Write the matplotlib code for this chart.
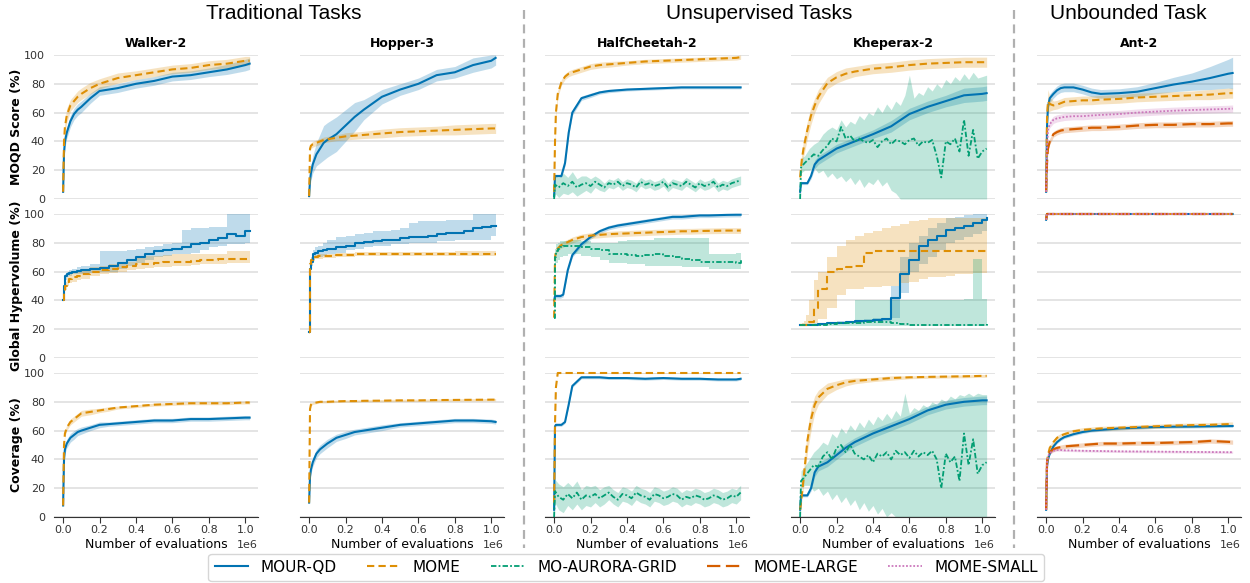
import matplotlib.pyplot as plt
import numpy as np
from matplotlib.lines import Line2D

# evaluation grids (in units of 1e6 evaluations)
grid_x = [0, 0.005, 0.01, 0.02, 0.04, 0.06, 0.08, 0.1, 0.15, 0.2,
          0.25, 0.3, 0.4, 0.5, 0.6, 0.7, 0.8, 0.9, 1.0, 1.024]
hv_x = [0, 0.005, 0.01, 0.02, 0.035, 0.05, 0.075, 0.1,
        0.15, 0.2, 0.25, 0.3, 0.35, 0.4, 0.45, 0.5,
        0.55, 0.6, 0.65, 0.7, 0.75, 0.8, 0.85, 0.9,
        0.95, 1.0, 1.024]
jag_x = [0, 0.005, 0.025, 0.05, 0.075, 0.1, 0.125, 0.15, 0.175, 0.2,
         0.225, 0.25, 0.275, 0.3, 0.325, 0.35, 0.375, 0.4, 0.425, 0.45,
         0.475, 0.5, 0.525, 0.55, 0.575, 0.6, 0.625, 0.65, 0.675, 0.7,
         0.725, 0.75, 0.775, 0.8, 0.825, 0.85, 0.875, 0.9, 0.925, 0.95,
         0.975, 1.0, 1.024]

methods = ["MOUR-QD", "MOME", "MO-AURORA-GRID", "MOME-LARGE", "MOME-SMALL"]
tasks = ["Walker-2", "Hopper-3", "HalfCheetah-2", "Kheperax-2", "Ant-2"]
metrics = ["MOQD Score (%)", "Global Hypervolume (%)", "Coverage (%)"]

# ---- Walker-2
walker_moqd_mour = [5, 32, 40, 46, 54, 59, 62, 64, 70, 75, 76, 77, 80, 82, 85, 86, 88, 90, 93, 94]
walker_moqd_mour_sd = [1, 4, 4, 4, 4, 4, 4, 4, 3.5, 3, 3, 3, 3, 3, 3, 3, 3, 3.5, 4, 4]
walker_moqd_mome = [5, 40, 50, 58, 65, 68, 71, 73, 77, 80, 82, 84, 86, 88, 90, 91, 93, 94, 96, 96]
walker_moqd_mome_sd = [1, 5, 5, 5, 4, 4, 4, 4, 4, 3.5, 3.5, 3.5, 3, 3, 3, 3, 3, 3, 3, 3]

walker_hv_mour = [40, 50, 57, 58, 59, 60, 60.5, 61, 62, 62.5, 64, 66, 68, 70, 72, 74,
                  75, 76, 77, 79, 80, 82, 83, 86, 85, 88, 88]
walker_hv_mour_lo = [40, 45, 54, 56, 57, 58, 58, 58, 59, 60, 60, 62, 64, 66, 68, 70,
                     71, 72, 72, 73, 75, 77, 78, 79, 79, 80, 80]
walker_hv_mour_hi = [40, 52, 58, 60, 61, 62, 63, 64, 65, 74, 74, 74, 75, 76, 77, 78,
                     79, 80, 89, 90, 90, 91, 91, 100, 100, 100, 100]
walker_hv_mome = [40, 46, 50, 53, 55, 56, 57, 58, 60, 61, 62, 63, 64, 65, 65.5, 66,
                  66.5, 67, 67, 67.5, 68, 68, 68.5, 69, 69, 69, 69]
walker_hv_mome_lo = [40, 44, 47, 50, 52, 53, 54, 55, 57, 58, 59, 60, 61, 62, 62.5, 63,
                     63.5, 64, 64, 64.5, 65, 65, 65.5, 66, 66, 66, 66]
walker_hv_mome_hi = [40, 48, 53, 56, 58, 59, 60, 61, 63, 64, 65, 66, 67, 71, 71, 71,
                     71.5, 72, 72, 72, 72, 72.5, 72.5, 74, 74, 74, 74]

walker_cov_mour = [8, 40, 47, 51, 55, 57, 59, 60, 62, 64, 64.5, 65, 66, 67, 67, 68, 68, 68.5, 69, 69]
walker_cov_mour_sd = [1, 3, 3, 3, 3, 3, 2.5, 2.5, 2, 2, 1.5, 1.5, 1.5, 1.5, 1.5, 1.5, 1.5, 1.5, 1.5, 1.5]
walker_cov_mome = [8, 50, 58, 62, 66, 68, 70, 72, 73, 74, 75, 76, 77, 78, 78.5, 79, 79, 79, 79.5, 79.5]
walker_cov_mome_sd = [1, 2, 2, 2, 2, 2, 2, 2, 2, 1.5, 1.5, 1, 1, 1, 1, 1, 1, 1, 1, 1]

# ---- Hopper-3
hopper_moqd_mour = [2, 13, 18, 24, 31, 35, 39, 41, 45, 51, 57, 62, 71, 76, 80, 86, 88, 93, 96, 98]
hopper_moqd_mour_sd = [1, 4, 5, 6, 8, 10, 12, 12, 12, 11, 10, 7, 5, 4, 4, 4, 4, 5, 5, 5]
hopper_moqd_mome = [2, 35, 37, 38, 39, 40, 41, 41.5, 42.5, 43.5, 44, 44.5, 45.5, 46.5, 47, 47.5, 48, 48.5, 49, 49]
hopper_moqd_mome_sd = [1, 2, 2, 2, 2, 2, 2, 2, 2, 2.5, 2.5, 2.5, 3, 3, 3, 3, 3.5, 3.5, 3.5, 3.5]

hopper_hv_mour = [18, 62, 67, 72, 73, 74, 75, 75.5, 77, 78, 80, 80.5, 81, 82, 82, 83,
                  84, 84, 85, 86, 87, 87, 88, 90, 91, 92, 92]
hopper_hv_mour_lo = [18, 58, 64, 68, 70, 70, 71, 72, 73, 75, 76, 77, 78, 78, 79, 79,
                     80, 80, 80, 81, 81, 82, 82, 82, 82, 85, 85]
hopper_hv_mour_hi = [18, 66, 70, 75, 77, 78, 80, 82, 84, 85, 86, 87, 88, 88, 89, 90,
                     94, 95, 95, 95, 96, 96, 96, 100, 100, 100, 100]
hopper_hv_mome = [18, 65, 68, 69, 70, 70.5, 71, 71, 71.5, 71.5, 72, 72, 72, 72, 72, 72.2,
                  72.2, 72.3, 72.3, 72.4, 72.4, 72.5, 72.5, 72.5, 72.5, 72.5, 72.5]

hopper_cov_mour = [10, 28, 33, 38, 44, 47, 49, 51, 55, 57, 59, 60, 62, 64, 65, 66, 67, 67, 66.5, 66]
hopper_cov_mour_sd = [1, 3, 3, 3, 3, 3, 3, 3, 2.5, 2.5, 2, 2, 2, 1.5, 1.5, 1.5, 1.5, 1.5, 1.5, 1.5]
hopper_cov_mome = [10, 75, 78, 79, 79.5, 80, 80, 80, 80.3, 80.5, 80.5, 80.7, 80.8, 81, 81, 81.2, 81.3, 81.4, 81.5, 81.5]

# ---- HalfCheetah-2
cheetah_moqd_mour = [2, 16, 16, 16, 16, 25, 46, 60, 70, 72, 74, 75, 76, 76.5, 77, 77.5, 77.5, 77.5, 77.5, 77.5]
cheetah_moqd_mour_sd = [0.5, 1, 1, 1, 1, 2, 2, 2, 1.5, 1.5, 1.2, 1.2, 1, 1, 1, 1, 1, 1, 1, 1]
cheetah_moqd_mome = [5, 40, 60, 73, 81, 85, 87, 88, 90, 92, 93, 93.5, 94.5, 95.5, 96, 96.5, 97, 97.5, 98, 98.5]
cheetah_moqd_mome_sd = [1, 3, 3, 2.5, 2, 2, 2, 2, 2, 2, 2, 2, 1.5, 1.5, 1.5, 1.5, 1.5, 1.5, 1.5, 1.5]
cheetah_moqd_aurora = [0, 10, 8, 11, 9, 12, 8, 10, 11, 9,
                       12, 10, 8, 11, 10, 12, 9, 11, 10, 8,
                       12, 10, 11, 9, 10, 12, 8, 11, 10, 9,
                       12, 10, 8, 11, 9, 10, 12, 8, 10, 9,
                       11, 12, 13]
cheetah_moqd_aurora_sd = [1, 6, 7, 7, 6, 7, 6, 6, 5, 5,
                          4, 4, 3, 3, 3, 3, 3, 3, 3, 3,
                          3, 3, 3, 3, 3, 3, 3, 3, 3, 3,
                          3, 3, 3, 3, 3, 3, 3, 3, 3, 3,
                          3, 3, 3]

cheetah_hv_mour = [40, 43, 43, 43, 43, 44, 61, 71.5, 79, 84, 88, 90.5, 92, 93, 94, 95,
                   96, 97, 98, 98, 98.5, 99, 99, 99.2, 99.4, 99.5, 99.5]
cheetah_hv_mome = [28, 70, 74, 76, 78, 79, 80.5, 82, 84, 85, 85.5, 86, 86.3, 86.5, 86.8, 87,
                   87.3, 87.5, 87.7, 88, 88, 88.2, 88.3, 88.4, 88.5, 88.5, 88.5]
cheetah_hv_aurora = [28, 70, 74, 76, 77, 77.5, 78, 78, 77, 76, 75, 72, 72, 71.5, 71, 71.5,
                     72, 71, 70, 69, 68, 67, 67, 66.5, 66.5, 66, 68]
cheetah_hv_aurora_lo = [28, 62, 66, 68, 70, 71, 72, 72, 71, 70, 68, 66, 66, 65, 65, 64,
                        64, 64, 64, 63, 63, 63, 62, 62, 62, 62, 63]
cheetah_hv_aurora_hi = [28, 76, 79, 80, 81, 81, 82, 82, 81, 80, 80, 80, 81, 82, 82, 82,
                        83, 83, 83, 83, 83, 83, 72, 72, 72, 73, 75]

cheetah_cov_mour = [5, 63, 64, 64, 64, 66, 78, 91, 97, 97, 97, 96.5, 96.5, 96, 96.5, 96, 96, 95.5, 95.5, 96]
cheetah_cov_mome = [10, 65, 90, 100, 100, 100, 100, 100, 100, 100, 100, 100, 100, 100, 100, 100, 100, 100, 100, 100]
cheetah_cov_aurora = [0, 18, 14, 12, 16, 13, 17, 12, 15, 14,
                      16, 13, 15, 17, 14, 12, 16, 15, 13, 17,
                      15, 14, 12, 16, 15, 13, 14, 16, 15, 12,
                      14, 13, 15, 14, 12, 13, 15, 14, 12, 13,
                      15, 14, 17]
cheetah_cov_aurora_sd = [1, 8, 9, 9, 8, 8, 8, 7, 7, 7,
                         6, 6, 6, 5, 5, 5, 5, 5, 5, 5,
                         5, 5, 5, 5, 5, 5, 5, 5, 5, 5,
                         5, 5, 5, 5, 5, 5, 5, 5, 5, 5,
                         5, 5, 5]

# ---- Kheperax-2
kheperax_moqd_mour = [5, 11, 11, 11, 11, 16, 24, 27, 31, 35, 37.5, 40, 45, 50.5, 59, 64, 68, 72, 73, 73.5]
kheperax_moqd_mour_sd = [1, 1, 1, 1, 1, 2, 3, 3, 3, 3, 3, 3, 3, 4, 4, 4, 4, 5, 5, 5]
kheperax_moqd_mome = [15, 22, 28, 36, 48, 58, 65, 71, 80.5, 84.5, 87, 88.5, 90.5, 91.5, 93, 94, 94.5, 95, 95, 95]
kheperax_moqd_mome_sd = [2, 4, 5, 6, 6, 6, 5, 5, 4, 4, 4, 3.5, 3.5, 3.5, 3.5, 3.5, 3.5, 3.5, 3.5, 3.5]
kheperax_moqd_aurora = [0, 22, 25, 28, 31, 30, 34, 37, 42, 40,
                        50, 42, 44, 40, 42, 40, 39, 41, 36, 40,
                        42, 38, 41, 40, 38, 41, 42, 37, 40, 39,
                        41, 30, 15, 40, 38, 42, 33, 55, 30, 48,
                        28, 33, 35]
kheperax_moqd_aurora_lo = [0, 18, 20, 20, 22, 18, 20, 15, 18, 14,
                           16, 12, 15, 10, 14, 8, 12, 10, 14, 9,
                           12, 6, 4, 0, 0, 0, 0, 0, 0, 0,
                           0, 0, 0, 0, 0, 0, 0, 0, 0, 0,
                           0, 0, 0]
kheperax_moqd_aurora_hi = [0, 28, 30, 35, 38, 40, 45, 48, 50, 48,
                           55, 50, 54, 52, 58, 55, 60, 58, 64, 60,
                           66, 62, 68, 65, 72, 86, 70, 74, 72, 78,
                           75, 80, 77, 83, 80, 85, 82, 87, 83, 88,
                           84, 85, 86]

kheperax_hv_mour = [23, 23, 23, 23, 23, 23, 23.2, 23.5, 24, 24.5, 25, 25.5, 26, 26.5, 27, 42,
                    58, 68, 78, 82, 85, 89, 90, 92, 94, 96, 97]
kheperax_hv_mour_lo = [23, 23, 23, 23, 23, 23, 23, 23, 23.5, 24, 24, 24.5, 25, 25.5, 26, 28,
                       45, 60, 65, 70, 75, 80, 82, 84, 86, 88, 88]
kheperax_hv_mour_hi = [23, 23, 23, 23, 23, 23.5, 24, 24.5, 25, 25.5, 26, 26.5, 27, 27.5, 28, 50,
                       70, 80, 85, 90, 94, 97, 98, 99, 100, 100, 100]
kheperax_hv_mome = [23, 23, 23, 23, 23, 25, 35, 48, 60, 62, 63.5, 64, 73, 74, 74, 74,
                    74, 74, 74, 74, 74, 74, 74, 74, 74, 74, 74]
kheperax_hv_mome_lo = [23, 23, 23, 23, 23, 23, 24, 27, 35, 44, 48, 48, 49, 49, 50, 50,
                       52, 53, 55, 56, 56, 57, 58, 58, 59, 59, 59]
kheperax_hv_mome_hi = [23, 23, 24, 26, 30, 40, 54, 60, 70, 78, 82, 85, 87, 88, 90, 92,
                       93, 95, 96, 97, 97, 97, 97, 97, 97, 97, 97]
kheperax_hv_aurora = [23, 23, 23, 23, 23, 23, 23, 23, 23.5, 24, 24, 24.5, 25, 25, 25, 24.5,
                      23.5, 23, 23, 23, 23, 23, 23, 23, 23, 23, 23.5]
kheperax_hv_aurora_lo = [22.5, 22.5, 22.5, 22.5, 22.5, 22.5, 22.5, 22.5, 22.5, 22.5, 22.5, 22.5, 22.5, 22.5,
                         22.5, 22.5, 22.5, 22.5, 22.5, 22.5, 22.5, 22.5, 22.5, 22.5, 22.5, 22.5, 22.5]
kheperax_hv_aurora_hi = [23, 23, 23, 23, 23, 23, 23, 23, 23.5, 24, 24, 40, 40, 40, 40, 40,
                         40, 40, 40.5, 40.5, 40.5, 40.5, 40.5, 41, 69, 41, 41]

kheperax_cov_mour = [5, 15, 15, 15, 15, 20, 31, 35, 38, 43, 48, 52, 58, 63, 68, 74, 78, 80, 81, 81]
kheperax_cov_mour_sd = [1, 1, 1, 1, 1, 2, 3, 3, 3, 3, 3, 3, 3, 3, 3, 3, 3, 3, 3, 3]
kheperax_cov_mome = [5, 10, 16, 28, 53, 68, 78, 83, 89, 91.5, 93.5, 94.5, 95.5, 96.5, 97, 97.3, 97.5, 97.7, 98, 98]
kheperax_cov_mome_sd = [1, 3, 4, 6, 8, 8, 6, 5, 4, 3, 2.5, 2, 1.5, 1.5, 1, 1, 1, 1, 1, 1]
kheperax_cov_aurora = [0, 25, 28, 32, 36, 35, 42, 45, 40, 48,
                       50, 45, 50, 44, 42, 40, 43, 38, 44, 42,
                       45, 40, 46, 43, 45, 41, 46, 42, 45, 43,
                       46, 40, 20, 44, 38, 42, 25, 58, 36, 54,
                       30, 36, 38]
kheperax_cov_aurora_lo = [0, 20, 22, 22, 18, 20, 15, 18, 12, 16,
                          10, 14, 8, 12, 5, 10, 4, 8, 2, 6,
                          0, 3, 0, 0, 0, 0, 0, 0, 0, 0,
                          0, 0, 0, 0, 0, 0, 0, 0, 0, 0,
                          0, 0, 0]
kheperax_cov_aurora_hi = [0, 32, 35, 40, 45, 48, 52, 50, 58, 55,
                          62, 58, 64, 60, 66, 62, 68, 64, 70, 67,
                          72, 68, 74, 70, 86, 72, 76, 74, 78, 76,
                          80, 78, 82, 80, 84, 82, 85, 84, 86, 84,
                          86, 85, 85]

# ---- Ant-2
ant_moqd_mour = [5, 50, 64, 70, 73, 75.5, 77, 77.5, 77.5, 76, 74, 73, 73.5, 74.5, 77, 79.5, 81.5, 84, 87, 87.5]
ant_moqd_mour_sd = [1, 3, 3, 3, 3, 3, 3, 3, 3, 3, 3, 3, 3, 3.5, 4, 5, 6, 8, 10, 11]
ant_moqd_mome = [5, 55, 68, 66, 65, 65.5, 66.5, 67.5, 68, 68.5, 68.5, 69, 69.5, 70.5, 71, 71.5, 72, 72.5, 73.5, 73.5]
ant_moqd_mome_sd = [1, 6, 8, 5, 3, 3, 3, 3, 3, 3, 3, 3, 3, 3, 3, 3, 3, 3.5, 3.5, 3.5]
ant_moqd_large = [5, 25, 35, 40, 45, 46.5, 47.5, 48, 48.5, 49, 49.5, 49.5, 50, 51, 51.5, 51.5, 52, 52, 52.5, 52.5]
ant_moqd_small = [5, 35, 48, 52, 55, 56, 56.5, 57, 57.5, 57.5, 58, 58.4, 59, 60, 60.7, 61.3, 61.8, 62.2, 62.6, 62.8]

ant_hv_all = [96, 100, 100, 100, 100, 100, 100, 100, 100, 100, 100, 100, 100, 100, 100, 100, 100, 100, 100, 100]

ant_cov_mour = [5, 35, 40, 44, 49, 52, 54, 55.5, 57.5, 59, 60, 60.5, 61.5, 62, 62.5, 62.7, 62.8, 63, 63.2, 63.2]
ant_cov_mome = [5, 38, 43, 48, 52, 55, 56.5, 57.5, 59.5, 60.5, 61, 61.5, 62, 62.5, 63, 63.5, 63.8, 64, 64.5, 64.5]
ant_cov_large = [5, 38, 42, 45, 47, 48, 48.5, 49, 49.5, 50, 50.5, 51, 51, 51.3, 51.4, 51.7, 52, 52.8, 52.2, 52]
ant_cov_small = [5, 38, 42, 44.5, 46, 46.5, 46.5, 46.3, 46.2, 46, 45.9, 45.8, 45.6, 45.5, 45.4, 45.3, 45.2, 45.1, 45, 45]

STYLES = {
    "MOUR-QD": ("#0173b2", "-", 1.5),
    "MOME": ("#de8f05", (0, (3.5, 2)), 1.5),
    "MO-AURORA-GRID": ("#029e73", (0, (3, 1.2, 1, 1.2)), 1.3),
    "MOME-LARGE": ("#d55e00", (0, (6, 2.5)), 1.6),
    "MOME-SMALL": ("#cc78bc", (0, (1, 1)), 1.3),
}


def draw(ax, x, y, spread, method, step=False):
    color, ls, lw = STYLES[method]
    xs = np.array(x) * 1e6
    ys = np.array(y, dtype=float)
    if isinstance(spread, tuple):
        lo = np.array(spread[0], dtype=float)
        hi = np.array(spread[1], dtype=float)
    else:
        sd = np.array(spread, dtype=float)
        lo, hi = ys - sd, ys + sd
    lo = np.clip(lo, 0, 100)
    hi = np.clip(hi, 0, 100)
    if step:
        ax.fill_between(xs, lo, hi, color=color, alpha=0.25, lw=0, step="post")
        ax.plot(xs, ys, color=color, ls=ls, lw=lw, drawstyle="steps-post", clip_on=False)
    else:
        ax.fill_between(xs, lo, hi, color=color, alpha=0.25, lw=0)
        ax.plot(xs, ys, color=color, ls=ls, lw=lw, clip_on=False)


W, H = 1250, 583
fig = plt.figure(figsize=(12.5, 5.83), dpi=100)

lefts = [54, 300, 545, 791, 1037]
tops = [55, 214, 373]
axes = [[fig.add_axes([l / W, 1 - (t + 144) / H, 204 / W, 144 / H]) for l in lefts] for t in tops]

for r in range(3):
    for c in range(5):
        ax = axes[r][c]
        ax.set_xlim(-0.05e6, 1.07e6)
        ax.set_ylim(0, 100)
        ax.set_yticks([0, 20, 40, 60, 80, 100])
        ax.grid(axis="y", color="#dcdcdc", lw=1.1)
        ax.grid(axis="x", visible=False)
        ax.set_axisbelow(True)
        for s in ["left", "right", "top"]:
            ax.spines[s].set_visible(False)
        ax.tick_params(axis="y", left=False, labelsize=8, pad=3, labelcolor="#333333")
        if c > 0:
            ax.tick_params(axis="y", labelleft=False)
        else:
            ax.set_ylabel(metrics[r], fontsize=9, fontweight="bold", labelpad=1)
        ax.set_xticks([0, 0.2e6, 0.4e6, 0.6e6, 0.8e6, 1.0e6])
        if r < 2:
            ax.spines["bottom"].set_visible(False)
            ax.tick_params(axis="x", bottom=False, labelbottom=False)
        else:
            ax.spines["bottom"].set_color("#333333")
            ax.tick_params(axis="x", length=4, color="#333333", labelsize=8, labelcolor="#333333", pad=2)
            ax.xaxis.get_offset_text().set_fontsize(8)
            ax.set_xlabel("Number of evaluations", fontsize=9, labelpad=2)
        if r == 0:
            ax.set_title(tasks[c], fontsize=9, fontweight="bold", pad=6)

# Walker-2
draw(axes[0][0], grid_x, walker_moqd_mour, walker_moqd_mour_sd, "MOUR-QD")
draw(axes[0][0], grid_x, walker_moqd_mome, walker_moqd_mome_sd, "MOME")
draw(axes[1][0], hv_x, walker_hv_mour, (walker_hv_mour_lo, walker_hv_mour_hi), "MOUR-QD", step=True)
draw(axes[1][0], hv_x, walker_hv_mome, (walker_hv_mome_lo, walker_hv_mome_hi), "MOME", step=True)
draw(axes[2][0], grid_x, walker_cov_mour, walker_cov_mour_sd, "MOUR-QD")
draw(axes[2][0], grid_x, walker_cov_mome, walker_cov_mome_sd, "MOME")

# Hopper-3
draw(axes[0][1], grid_x, hopper_moqd_mour, hopper_moqd_mour_sd, "MOUR-QD")
draw(axes[0][1], grid_x, hopper_moqd_mome, hopper_moqd_mome_sd, "MOME")
draw(axes[1][1], hv_x, hopper_hv_mour, (hopper_hv_mour_lo, hopper_hv_mour_hi), "MOUR-QD", step=True)
draw(axes[1][1], hv_x, hopper_hv_mome, 1.5, "MOME", step=True)
draw(axes[2][1], grid_x, hopper_cov_mour, hopper_cov_mour_sd, "MOUR-QD")
draw(axes[2][1], grid_x, hopper_cov_mome, 0.8, "MOME")

# HalfCheetah-2
draw(axes[0][2], grid_x, cheetah_moqd_mour, cheetah_moqd_mour_sd, "MOUR-QD")
draw(axes[0][2], grid_x, cheetah_moqd_mome, cheetah_moqd_mome_sd, "MOME")
draw(axes[0][2], jag_x, cheetah_moqd_aurora, cheetah_moqd_aurora_sd, "MO-AURORA-GRID")
draw(axes[1][2], hv_x, cheetah_hv_mour, 1.5, "MOUR-QD")
draw(axes[1][2], hv_x, cheetah_hv_mome, 2, "MOME")
draw(axes[1][2], hv_x, cheetah_hv_aurora, (cheetah_hv_aurora_lo, cheetah_hv_aurora_hi), "MO-AURORA-GRID", step=True)
draw(axes[2][2], grid_x, cheetah_cov_mour, 1, "MOUR-QD")
draw(axes[2][2], grid_x, cheetah_cov_mome, 0.3, "MOME")
draw(axes[2][2], jag_x, cheetah_cov_aurora, cheetah_cov_aurora_sd, "MO-AURORA-GRID")

# Kheperax-2
draw(axes[0][3], grid_x, kheperax_moqd_mour, kheperax_moqd_mour_sd, "MOUR-QD")
draw(axes[0][3], grid_x, kheperax_moqd_mome, kheperax_moqd_mome_sd, "MOME")
draw(axes[0][3], jag_x, kheperax_moqd_aurora, (kheperax_moqd_aurora_lo, kheperax_moqd_aurora_hi), "MO-AURORA-GRID")
draw(axes[1][3], hv_x, kheperax_hv_mour, (kheperax_hv_mour_lo, kheperax_hv_mour_hi), "MOUR-QD", step=True)
draw(axes[1][3], hv_x, kheperax_hv_mome, (kheperax_hv_mome_lo, kheperax_hv_mome_hi), "MOME", step=True)
draw(axes[1][3], hv_x, kheperax_hv_aurora, (kheperax_hv_aurora_lo, kheperax_hv_aurora_hi), "MO-AURORA-GRID", step=True)
draw(axes[2][3], grid_x, kheperax_cov_mour, kheperax_cov_mour_sd, "MOUR-QD")
draw(axes[2][3], grid_x, kheperax_cov_mome, kheperax_cov_mome_sd, "MOME")
draw(axes[2][3], jag_x, kheperax_cov_aurora, (kheperax_cov_aurora_lo, kheperax_cov_aurora_hi), "MO-AURORA-GRID")

# Ant-2
draw(axes[0][4], grid_x, ant_moqd_mour, ant_moqd_mour_sd, "MOUR-QD")
draw(axes[0][4], grid_x, ant_moqd_mome, ant_moqd_mome_sd, "MOME")
draw(axes[0][4], grid_x, ant_moqd_large, 2, "MOME-LARGE")
draw(axes[0][4], grid_x, ant_moqd_small, 2.5, "MOME-SMALL")
for m in ["MOUR-QD", "MOME", "MOME-LARGE", "MOME-SMALL"]:
    draw(axes[1][4], grid_x, ant_hv_all, 0.3, m)
draw(axes[2][4], grid_x, ant_cov_mour, 1, "MOUR-QD")
draw(axes[2][4], grid_x, ant_cov_mome, 1.5, "MOME")
draw(axes[2][4], grid_x, ant_cov_large, 1.5, "MOME-LARGE")
draw(axes[2][4], grid_x, ant_cov_small, 0.8, "MOME-SMALL")

# group headers and separators
header_font = ["Liberation Sans", "DejaVu Sans"]
fig.text(0.227, 0.977, "Traditional Tasks", ha="center", va="center", fontsize=15, family=header_font)
fig.text(0.607, 0.977, "Unsupervised Tasks", ha="center", va="center", fontsize=15, family=header_font)
fig.text(0.9025, 0.977, "Unbounded Task", ha="center", va="center", fontsize=15, family=header_font)
for xp in [524, 1014]:
    fig.add_artist(Line2D([xp / W, xp / W], [1 - 10 / H, 1 - 548 / H], transform=fig.transFigure,
                          color="#b0b0b0", lw=1.6, ls=(0, (4, 2.5))))

handles = [Line2D([], [], color=STYLES[m][0], ls=STYLES[m][1], lw=STYLES[m][2]) for m in methods]
fig.legend(handles, methods, loc="center", bbox_to_anchor=(0.501, 0.027), ncol=5, fontsize=11,
           frameon=True, edgecolor="#cccccc", fancybox=True, handlelength=2.2, columnspacing=2.0)

fig.savefig("out.png", dpi=100)
